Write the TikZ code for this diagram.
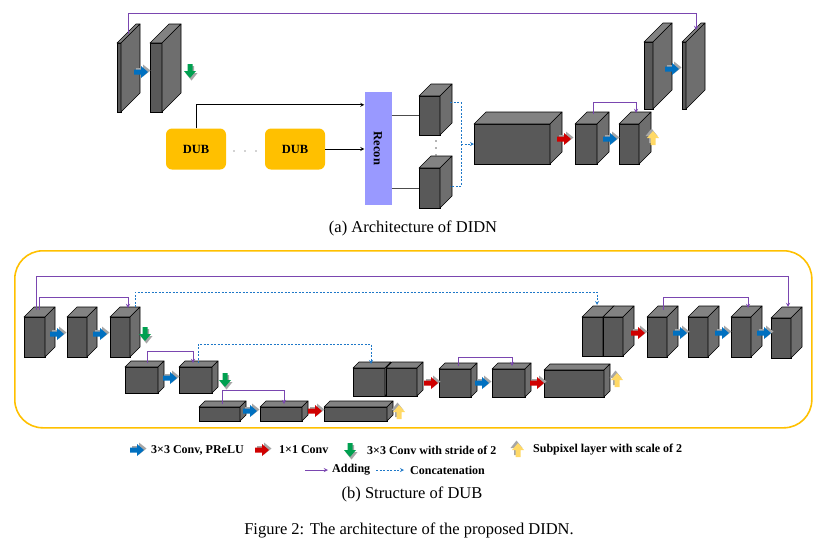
\documentclass[tikz,border=0pt]{standalone}
\usepackage{fontspec}
\setmainfont{Liberation Serif}
\usetikzlibrary{arrows}

\definecolor{cubefront}{HTML}{595959}
\definecolor{cubetop}{HTML}{828282}
\definecolor{cubeside}{HTML}{6E6E6E}
\definecolor{addpurple}{HTML}{7A46B0}
\definecolor{catblue}{HTML}{1E78C8}
\definecolor{dubyellow}{HTML}{FFC000}
\definecolor{reconblue}{HTML}{9999FF}
\definecolor{convblue}{HTML}{0070C0}
\definecolor{convred}{HTML}{D00000}
\definecolor{convgreen}{HTML}{00A050}
\definecolor{subyellow}{HTML}{FFD966}
\definecolor{arrowshade}{HTML}{A6A6A6}

\tikzset{
	featfront/.style={draw=black, fill=cubefront, line width=0.6pt, inner sep=0pt, outer sep=0pt, anchor=north west},
	topface/.style={draw=black, fill=cubetop, line width=0.6pt, line join=round},
	sideface/.style={draw=black, fill=cubeside, line width=0.6pt, line join=round},
	adding/.style={draw=addpurple, line width=0.9pt, ->},
	catline/.style={draw=catblue, line width=0.8pt, dash pattern=on 2pt off 1.5pt},
	concat/.style={catline, ->},
	feed/.style={draw=black, line width=0.8pt, ->},
	branch/.style={draw=black!70, line width=0.7pt},
	dubbox/.style={fill=dubyellow, rounded corners=6pt, minimum width=60pt, minimum height=41pt, inner sep=0pt, font=\fontsize{12.5}{14}\selectfont\bfseries},
	reconbox/.style={fill=reconblue, minimum width=27pt, minimum height=113pt, inner sep=0pt},
	frame/.style={draw=dubyellow, line width=1.6pt, rounded corners=28pt, minimum width=797pt, minimum height=177pt, inner sep=0pt, anchor=north west},
	lgtext/.style={font=\fontsize{12}{14}\selectfont\bfseries, anchor=west, inner sep=0pt},
	capt/.style={font=\fontsize{16.5}{19}\selectfont, inner sep=0pt},
	pics/blk/.style={code={
		\fill[arrowshade] (-5,-4) -- (2,-4) -- (2,-7.5) -- (9.5,-1.5) -- (2,4.5) -- (2,1) -- (-5,1) -- cycle;
		\fill[#1] (-7,-2.5) -- (0,-2.5) -- (0,-6) -- (7,0) -- (0,6) -- (0,2.5) -- (-7,2.5) -- cycle;
	}}
}

\newcommand{\featbox}[6]{%
	\node[featfront, minimum width=#4pt, minimum height=#5pt] (#1) at (#2,#3) {};
	\path[topface] (#1.north west) -- ++(#6,-#6) -- ([shift={(#6,-#6)}]#1.north east) -- (#1.north east) -- cycle;
	\path[sideface] (#1.north east) -- ++(#6,-#6) -- ([shift={(#6,-#6)}]#1.south east) -- (#1.south east) -- cycle;
}

\begin{document}
\begin{tikzpicture}[x=1pt, y=-1pt, >=stealth]
	\useasboundingbox (0,0) rectangle (824,550);

	\featbox{sin1}{117}{43}{4}{69}{19}
	\featbox{sin2}{150}{43}{12}{69}{19}
	\featbox{fa}{419}{96}{21}{39}{12}
	\featbox{fb}{419}{168}{21}{40}{12}
	\featbox{fuse}{474}{124}{76}{40}{12}
	\featbox{up1}{575}{124}{22}{40}{12}
	\featbox{up2}{619}{124}{20}{40}{12}
	\featbox{sout1}{644}{42}{9}{67}{19}
	\featbox{sout2}{682}{42}{4}{67}{19}

	\node[dubbox] (dub1) at (196,149) {DUB};
	\node[dubbox] (dub2) at (295,149) {DUB};
	\foreach \dx in {234,245,256}
		\fill[black!35] (\dx,151) circle (0.9pt);
	\node[reconbox] (recon) at (378,148.5) {};
	\node[rotate=-90, font=\fontsize{12.5}{14}\selectfont\bfseries] (recontxt) at (recon) {Recon};
	\foreach \dy in {141,148,155}
		\fill[black!60] (436,\dy) circle (0.8pt);

	\pic at (141,72) {blk=convblue};
	\pic[rotate=-90] at (190,71) {blk=convgreen};
	\pic at (564,139) {blk=convred};
	\pic at (610,139) {blk=convblue};
	\pic[rotate=90] at (653,138) {blk=subyellow};
	\pic at (672,69) {blk=convblue};

	\coordinate (sin1top) at ([shift={(9,-9)}]sin1.north);
	\coordinate (sout2top) at ([shift={(12,-12)}]sout2.north);
	\coordinate (up1top) at ([shift={(7,-10)}]up1.north);
	\coordinate (up2top) at ([shift={(7,-11)}]up2.north);
	\coordinate (faout) at ([shift={(10,-13)}]fa.east);
	\coordinate (fbout) at ([shift={(10,-2)}]fb.east);
	\coordinate (merge) at (461,144);

	\draw[adding] (sin1top) -- ++(0,-21) -| (sout2top);
	\draw[adding] (up1top) -- ++(0,-12) -| (up2top);
	\draw[feed] (dub1.north) |- ([yshift=-13pt]recon.north west);
	\draw[feed] (dub2.east) -- (dub2.east -| recon.west);
	\draw[branch] (recon.east |- fa.west) -- (fa.west);
	\draw[branch] (recon.east |- fb.west) -- (fb.west);
	\draw[catline] (faout) -| (merge) |- (fbout);
	\draw[concat] (merge) -- (fuse.west);

	\node[capt] (capa) at (413,228) {(a) Architecture of DIDN};

	\node[frame] (dubframe) at (14,250) {};

	\featbox{enc1a}{24}{317}{21}{40}{10}
	\featbox{enc1b}{67}{317}{20}{40}{10}
	\featbox{enc1c}{110}{317}{20}{40}{10}
	\featbox{enc2a}{125}{367}{33}{26}{6}
	\featbox{enc2b}{179}{367}{33}{26}{6}
	\featbox{enc3a}{199}{407}{41}{14}{6}
	\featbox{enc3b}{260}{407}{42}{14}{6}
	\featbox{enc3c}{324}{407}{63}{14}{6}
	\featbox{dec2a}{353}{368}{32}{28}{6}
	\featbox{dec2b}{386}{368}{31}{28}{6}
	\featbox{dec2c}{439}{369}{32}{28}{6}
	\featbox{dec2d}{492}{369}{33}{28}{6}
	\featbox{dec2e}{544}{370}{60}{27}{6}
	\featbox{dec1a}{582}{317}{21}{39}{11}
	\featbox{dec1b}{603}{317}{20}{39}{11}
	\featbox{dec1c}{647}{317}{20}{40}{11}
	\featbox{dec1d}{688}{317}{20}{40}{11}
	\featbox{dec1e}{731}{317}{20}{40}{11}
	\featbox{dec1f}{771}{318}{20}{40}{11}

	\pic at (57,334) {blk=convblue};
	\pic at (100,334) {blk=convblue};
	\pic[rotate=-90] at (145,334) {blk=convgreen};
	\pic at (170,378) {blk=convblue};
	\pic[rotate=-90] at (225,380) {blk=convgreen};
	\pic at (250,411) {blk=convblue};
	\pic at (315,411) {blk=convred};
	\pic[rotate=90] at (399,412) {blk=subyellow};
	\pic at (431,383) {blk=convred};
	\pic at (482,383) {blk=convblue};
	\pic at (537,383) {blk=convred};
	\pic[rotate=90] at (617,380) {blk=subyellow};
	\pic at (638,333) {blk=convred};
	\pic at (680,333) {blk=convblue};
	\pic at (722,333) {blk=convblue};
	\pic at (764,333) {blk=convblue};

	\coordinate (enc1aL) at ([shift={(1.5,-7)}]enc1a.north);
	\coordinate (enc1aR) at ([shift={(4.5,-7)}]enc1a.north);
	\coordinate (enc1cadd) at ([shift={(8,-9)}]enc1c.north);
	\coordinate (enc1ccat) at ([shift={(15,-10)}]enc1c.north);
	\coordinate (dec1fadd) at ([shift={(7,-11)}]dec1f.north);
	\coordinate (dec1acat) at ([shift={(4.5,-12)}]dec1a.north);
	\coordinate (enc2aout) at ([shift={(5.5,-4)}]enc2a.north);
	\coordinate (enc2bin) at ([shift={(-2.5,-4)}]enc2b.north);
	\coordinate (enc2bcat) at ([shift={(2.5,-4)}]enc2b.north);
	\coordinate (dec2acat) at ([shift={(2,-4)}]dec2a.north);
	\coordinate (enc3aout) at ([shift={(2.5,-3)}]enc3a.north);
	\coordinate (enc3bin) at ([shift={(3,-3)}]enc3b.north);
	\coordinate (dec2cout) at ([shift={(3,-3)}]dec2c.north);
	\coordinate (dec2din) at ([shift={(3.5,-3)}]dec2d.north);
	\coordinate (dec1cout) at ([shift={(6,-7)}]dec1c.north);
	\coordinate (dec1ein) at ([shift={(7,-9)}]dec1e.north);

	\draw[adding] (enc1aL) -- ++(0,-34) -| (dec1fadd);
	\draw[adding] (enc1aR) -- ++(0,-13) -| (enc1cadd);
	\draw[concat] (enc1ccat) -- ++(0,-15) -| (dec1acat);
	\draw[adding] (enc2aout) -- ++(0,-12) -| (enc2bin);
	\draw[concat] (enc2bcat) -- ++(0,-19) -| (dec2acat);
	\draw[adding] (enc3aout) -- ++(0,-14) -| (enc3bin);
	\draw[adding] (dec2cout) -- ++(0,-9) -| (dec2din);
	\draw[adding] (dec1cout) -- ++(0,-13) -| (dec1ein);

	\pic at (137,450) {blk=convblue};
	\node[lgtext] (lgconv) at (151,450) {3×3 Conv, PReLU};
	\pic at (262,450) {blk=convred};
	\node[lgtext] (lgone) at (279,450) {1×1 Conv};
	\pic[rotate=-90] at (350,450) {blk=convgreen};
	\node[lgtext] (lgdown) at (367,450) {3×3 Conv with stride of 2};
	\pic[rotate=90] at (518,450) {blk=subyellow};
	\node[lgtext] (lgsub) at (533,450) {Subpixel layer with scale of 2};
	\coordinate (lgaddstart) at (305,470);
	\node[lgtext] (lgadd) at (332,470) {Adding};
	\draw[adding] (lgaddstart) -- ([xshift=-4pt]lgadd.west);
	\coordinate (lgcatstart) at (376,470);
	\node[lgtext] (lgcat) at (410,470) {Concatenation};
	\draw[concat] (lgcatstart) -- ([xshift=-6pt]lgcat.west);

	\node[capt] (capb) at (412,494) {(b) Structure of DUB};
	\node[capt] (capfig) at (409,530) {Figure 2: The architecture of the proposed DIDN.};
\end{tikzpicture}
\end{document}
